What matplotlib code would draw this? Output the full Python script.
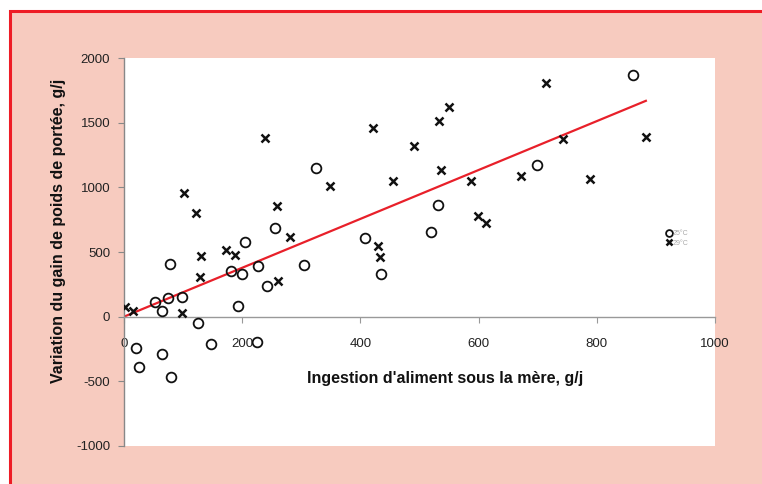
import numpy as np
import matplotlib.pyplot as plt
from matplotlib.patches import Rectangle

plt.rcParams['font.family'] = ['Liberation Sans', 'DejaVu Sans']
plt.rcParams['axes.unicode_minus'] = False

# 25°C group (circles)
x_25 = [862, 325, 699, 255, 204, 407, 531, 520, 77, 181, 200, 227, 242, 304,
        98, 74, 53, 65, 126, 193, 148, 225, 21, 25, 65, 80, 435]
y_25 = [1868, 1150, 1176, 685, 581, 610, 866, 653, 408, 351, 331, 388, 240, 401,
        150, 145, 111, 47, -52, 85, -212, -194, -246, -388, -289, -465, 331]

# 29°C group (crosses)
x_29 = [102, 121, 238, 349, 259, 281, 172, 188, 130, 422, 490, 456, 430, 434,
        714, 550, 533, 742, 883, 537, 587, 671, 788, 599, 613, 2, 15, 129, 98, 261]
y_29 = [959, 801, 1382, 1008, 855, 615, 512, 475, 470, 1460, 1323, 1047, 550, 460,
        1804, 1623, 1512, 1372, 1390, 1132, 1047, 1088, 1067, 778, 723, 72, 40, 310, 26, 279]

labels = ["25°C", "29°C"]

# trend line
slope = 1.89
intercept = 0.0

xticks = [0, 200, 400, 600, 800, 1000]
yticks = [-1000, -500, 0, 500, 1000, 1500, 2000]

fig = plt.figure(figsize=(7.62, 4.84), dpi=100, facecolor='white')
fig.patches.append(Rectangle((9.5 / 762, -0.1), 1.2, 1 - 11.5 / 484 + 0.1,
                             transform=fig.transFigure, facecolor='#f7cbbf',
                             edgecolor='#ee1c25', linewidth=2.2, zorder=-10))

ax = fig.add_axes([124 / 762, 1 - 446 / 484, 591 / 762, 388 / 484])
ax.set_facecolor('white')

ax.plot(x_25, y_25, linestyle='none', marker='o', markersize=7,
        markerfacecolor='none', markeredgecolor='#111111', markeredgewidth=1.3,
        label=labels[0], zorder=3)
ax.plot(x_29, y_29, linestyle='none', marker='x', markersize=6,
        color='#111111', markeredgewidth=1.8, label=labels[1], zorder=3)

xs = np.linspace(min(x_25 + x_29), max(x_25 + x_29), 50)
ax.plot(xs, slope * xs + intercept, color='#e8202a', linewidth=1.6, zorder=2)

ax.set_xlim(0, 1000)
ax.set_ylim(-1000, 2000)
ax.set_xticks(xticks)
ax.set_yticks(yticks)

for s in ['top', 'right']:
    ax.spines[s].set_visible(False)
ax.spines['bottom'].set_position(('data', 0))
ax.spines['bottom'].set_color('#999999')
ax.spines['left'].set_color('#888888')
ax.spines['bottom'].set_linewidth(1.0)
ax.spines['left'].set_linewidth(1.0)
ax.tick_params(axis='x', direction='out', length=4, pad=11, colors='#999999',
               labelcolor='#222222', labelsize=9.5)
ax.tick_params(axis='y', direction='out', length=4, pad=6, colors='#888888',
               labelcolor='#222222', labelsize=9.5)

ax.text(0.543, 0.175, "Ingestion d'aliment sous la mère, g/j", transform=ax.transAxes,
        ha='center', va='center', fontsize=11.5, fontweight='bold', color='#111111')
fig.text(58 / 762, 1 - 231 / 484, "Variation du gain de poids de portée, g/j",
         rotation=90, ha='center', va='center', fontsize=11.5, fontweight='bold',
         color='#111111')

leg = ax.legend(loc='center left', bbox_to_anchor=(0.905, 0.535), frameon=False,
                fontsize=5, handletextpad=0.1, labelspacing=0.4, handlelength=1,
                markerscale=0.7)
for t in leg.get_texts():
    t.set_color('#aaaaaa')

fig.savefig('out.png', dpi=100)
